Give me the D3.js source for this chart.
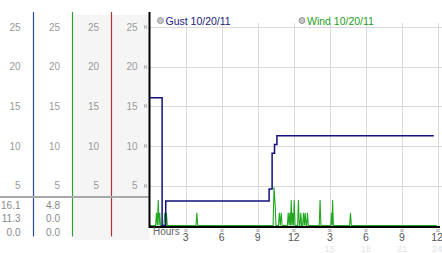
<!DOCTYPE html>
<html>
<head>
<meta charset="utf-8">
<title>Gust / Wind</title>
<script src="https://cdn.jsdelivr.net/npm/d3@7"></script>
<style>
  body { margin: 0; background: #fff; }
  text { font-family: "Liberation Sans", Arial, sans-serif; }
</style>
</head>
<body>
<script>
  var WIDTH = 442, HEIGHT = 253;

  // data
  var yTicks = [5, 10, 15, 20, 25];
  var hourTicks = [3, 6, 9, 12, 15, 18, 21, 24];
  var hourLabels = ["3", "6", "9", "12", "3", "6", "9", "12"];
  var hourLabels24 = ["", "", "", "", "15", "18", "21", "24"];
  var seriesNames = ["Gust 10/20/11", "Wind 10/20/11"];
  var gustStats = ["16.1", "11.3", "0.0"];
  var windStats = ["4.8", "0.0", "0.0"];

  // [hour, mph], step series
  var gust = [[0, 16.1], [1.05, 0], [1.35, 3.1], [9.95, 4.6], [10.2, 9.1],
              [10.4, 10.2], [10.6, 11.3], [23.65, 11.3]];

  // [hour, mph] readings
  var wind = [[0, 0], [0.51, 0], [0.58, 1.6], [0.65, 0], [0.73, 3.2], [0.79, 0], [0.85, 1.6], [0.92, 0],
              [1.2, 0], [1.27, 1.6], [1.34, 0], [1.41, 1.6], [1.48, 0],
              [3.87, 0], [3.94, 1.6], [4.01, 0],
              [10.28, 0], [10.36, 4.8], [10.46, 2.4], [10.52, 0],
              [10.73, 0], [10.8, 1.6], [10.88, 0], [10.96, 1.6], [11.03, 0],
              [11.47, 0], [11.54, 1.6], [11.61, 0], [11.68, 1.6], [11.73, 0], [11.79, 3.2], [11.85, 0],
              [11.91, 1.6], [11.97, 0], [12.04, 3.2], [12.11, 0],
              [12.32, 0], [12.39, 3.2], [12.46, 0],
              [12.52, 0], [12.59, 1.6], [12.66, 0],
              [12.74, 0], [12.81, 1.6], [12.88, 0], [12.95, 1.6], [13.02, 0],
              [13.07, 0], [13.14, 1.6], [13.21, 0],
              [14.12, 0], [14.19, 3.2], [14.26, 0],
              [15.08, 0], [15.15, 1.6], [15.19, 0], [15.23, 3.2], [15.3, 0],
              [16.65, 0], [16.72, 1.6], [16.79, 0],
              [23.9, 0]];

  var svg = d3.select("body").append("svg")
              .attr("width", WIDTH)
              .attr("height", HEIGHT);

  var x = d3.scaleLinear().domain([0, 24]).range([149.5, 438]);
  var y = d3.scaleLinear().domain([0, 25]).range([225.5, 27]);

  // left label panel
  svg.append("rect").attr("x", 72.5).attr("y", 15).attr("width", 77).attr("height", 225)
     .attr("fill", "#f5f5f5");

  var cols = [{right: 20.5, line: 33.5, color: "#2a4aa8", stats: gustStats},
              {right: 60, line: 72.5, color: "#33a033", stats: windStats},
              {right: 99, line: 111.5, color: "#aa3333", stats: []},
              {right: 137.5, line: null, color: null, stats: []}];

  cols.forEach(function(c){
    svg.append("g").selectAll("text")
       .data(yTicks).enter().append("text")
       .attr("x", c.right)
       .attr("y", function(d){ return y(d) + 3.5; })
       .attr("text-anchor", "end")
       .attr("font-size", 10)
       .attr("fill", "#9a9a9a")
       .text(function(d){ return d; });

    svg.append("g").selectAll("text")
       .data(c.stats).enter().append("text")
       .attr("x", c.right)
       .attr("y", function(d, i){ return 208.5 + i * 13.6; })
       .attr("text-anchor", "end")
       .attr("font-size", 10)
       .attr("fill", "#8a8a8a")
       .text(function(d){ return d; });

    if(c.line !== null){
      svg.append("line")
         .attr("x1", c.line).attr("x2", c.line)
         .attr("y1", 12).attr("y2", 236.5)
         .attr("stroke", c.color).attr("stroke-width", 1.2);
    }
  });

  svg.append("line").attr("x1", 0).attr("x2", 149).attr("y1", 197).attr("y2", 197)
     .attr("stroke", "#a8a8a8").attr("stroke-width", 2);

  // grid
  svg.append("g").selectAll("line")
     .data(yTicks).enter().append("line")
     .attr("x1", 149).attr("x2", 442)
     .attr("y1", function(d){ return Math.round(y(d)) + 0.5; })
     .attr("y2", function(d){ return Math.round(y(d)) + 0.5; })
     .attr("stroke", "#dadada");

  svg.append("g").selectAll("line")
     .data(hourTicks).enter().append("line")
     .attr("x1", function(d){ return Math.round(x(d)) + 0.5; })
     .attr("x2", function(d){ return Math.round(x(d)) + 0.5; })
     .attr("y1", 23).attr("y2", 226)
     .attr("stroke", "#dadada");

  // tiny tick glyphs
  function glyph(g, cx, cy){
    [[0, 0], [2, 0], [1, 1], [0, 2], [2, 2]].forEach(function(p){
      g.append("rect").attr("x", cx - 1.5 + p[0]).attr("y", cy - 1.5 + p[1])
       .attr("width", 1).attr("height", 1).attr("fill", "#8c8c8c");
    });
  }
  var gl = svg.append("g");
  yTicks.forEach(function(d){ glyph(gl, 145.5, Math.round(y(d))); });
  hourTicks.forEach(function(d){ glyph(gl, Math.round(x(d)), 230.5); });

  // series
  var windLine = d3.line()
                   .x(function(d){ return x(d[0]); })
                   .y(function(d){ return y(d[1]); });
  svg.append("path").datum(wind)
     .attr("d", windLine)
     .attr("fill", "none")
     .attr("stroke", "#22a822")
     .attr("stroke-width", 1.1);

  var gustLine = d3.line()
                   .curve(d3.curveStepAfter)
                   .x(function(d){ return x(d[0]); })
                   .y(function(d){ return y(d[1]); });
  svg.append("path").datum(gust)
     .attr("d", gustLine)
     .attr("fill", "none")
     .attr("stroke", "#10107e")
     .attr("stroke-width", 1.5);

  // axes
  svg.append("line").attr("x1", 149.5).attr("x2", 149.5).attr("y1", 12).attr("y2", 228)
     .attr("stroke", "#000").attr("stroke-width", 2);
  svg.append("line").attr("x1", 149).attr("x2", 440).attr("y1", 227).attr("y2", 227)
     .attr("stroke", "#000").attr("stroke-width", 2);

  // x labels
  svg.append("text").attr("x", 153).attr("y", 234.5)
     .attr("font-size", 10).attr("fill", "#666").text("Hours");

  svg.append("g").selectAll("text")
     .data(hourTicks).enter().append("text")
     .attr("x", function(d, i){ return i === hourTicks.length - 1 ? x(d) - 1 : x(d); })
     .attr("y", 241)
     .attr("text-anchor", "middle")
     .attr("font-size", 10.5)
     .attr("fill", "#555")
     .text(function(d, i){ return hourLabels[i]; });

  svg.append("g").selectAll("text")
     .data(hourTicks).enter().append("text")
     .attr("x", function(d, i){ return i === hourTicks.length - 1 ? x(d) - 1 : x(d); })
     .attr("y", 252)
     .attr("text-anchor", "middle")
     .attr("font-size", 9.5)
     .attr("fill", "#e4e4e4")
     .text(function(d, i){ return hourLabels24[i]; });

  // legend
  var legendX = [160.5, 302];
  var legendColor = ["#1a1a80", "#22a022"];
  seriesNames.forEach(function(name, i){
    svg.append("circle").attr("cx", legendX[i]).attr("cy", 20.5).attr("r", 3)
       .attr("fill", "#c4c4c4").attr("stroke", "#9a9a9a");
    svg.append("text").attr("x", legendX[i] + 5).attr("y", 24.5)
       .attr("font-size", 10.5).attr("fill", legendColor[i]).text(name);
  });
</script>
</body>
</html>
